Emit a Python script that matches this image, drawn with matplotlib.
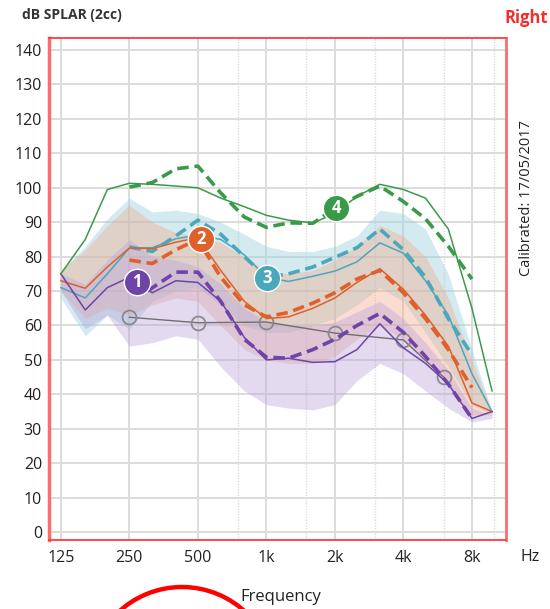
import matplotlib
matplotlib.use("Agg")
import matplotlib.pyplot as plt
from matplotlib.patches import Ellipse
import numpy as np

plt.rcParams['font.family'] = ['Open Sans', 'DejaVu Sans']

# third-octave frequencies for the curves
freqs = [125, 160, 200, 250, 315, 400, 500, 630, 800, 1000, 1250, 1600,
         2000, 2500, 3150, 4000, 5000, 6300, 8000, 9800]
freqs_dash = freqs[3:19]                # dashed targets run 250 .. 8k
freqs_purple_dash = [300] + freqs[5:19]

green_solid = [75, 85, 99.5, 101.3, 101, 100.5, 100, 97, 94.5, 92, 90.6, 89.8,
               92.5, 97.5, 101, 99.5, 97, 88, 65, 41]
green_dash = [100.2, 101.5, 105.5, 106.3, 98.5, 91.5, 88.5, 89.8, 89.7, 94,
              97.5, 100.5, 96, 91, 83, 73.5]

teal_solid = [71, 68, 75, 82.5, 82.6, 85.2, 86.2, 85, 80.5, 74, 72.8, 74.3,
              75.8, 78.5, 84, 81, 73, 63, 46, 35]
teal_dash = [82.8, 81.5, 86, 90.6, 86.5, 80, 74, 75, 77, 79.8, 82.6, 88, 82,
             74, 62, 51.5]

orange_solid = [73, 70.8, 77, 82.5, 82.3, 84.2, 85.5, 76, 67, 62, 62.5, 65,
                68, 72.5, 76.5, 70.5, 63, 54, 37.5, 35]
orange_dash = [79, 78, 82, 85, 74, 66, 62.5, 63.8, 66.5, 69.5, 73.5, 76, 69.5,
               62, 53, 42]

purple_solid = [75, 64.5, 71, 74, 69.5, 73, 72.5, 67, 56.5, 50, 50.5, 49.3,
                49.5, 53, 60.5, 53.5, 49, 43, 33, 35]
purple_dash = [70, 75.5, 75.5, 67, 56, 50.8, 50.5, 53, 56, 60, 63.5, 58, 51,
               43, 33]

# shaded ranges (upper, lower)
teal_hi = [76, 83, 91, 97, 93, 93.5, 92.5, 90, 86.5, 83, 81.5, 81.5, 83, 86,
           93.5, 92.5, 88, 75, 53, 35]
teal_lo = [68, 57, 63, 59, 67, 70, 71, 66, 60, 58, 58, 60, 62, 66, 71, 67, 58,
           48, 37, 34]
orange_hi = [76, 82, 89, 95, 90, 87, 86, 84, 80, 76, 75, 76, 79, 83, 89, 86,
             80, 68, 50, 35]
orange_lo = [70, 62, 65, 63, 66, 68, 67, 60, 53, 50, 49, 49, 51, 56, 60, 56,
             50, 42, 34, 34]
purple_hi = [75, 72, 79, 85, 80, 79, 77, 72, 65, 61, 60, 60, 61, 64, 67, 62,
             55, 47, 36, 34]
purple_lo = [70, 59, 63, 54, 55, 57, 56, 48, 41, 37, 36, 35.5, 37, 44, 49, 46,
             41, 36, 32, 33]

# threshold circles
thr_freqs = [250, 500, 1000, 2000, 4000, 6000]
thr_values = [62.4, 60.8, 61, 57.8, 55.8, 45]

# numbered markers
marker_freqs = [270, 515, 1010, 2030]
marker_values = [72.6, 85, 73.8, 94]
marker_labels = ['1', '2', '3', '4']

purple = '#7043a8'
orange = '#e0602a'
teal = '#4aa8ba'
green = '#3a9a4a'
marker_colors = [purple, orange, teal, green]

fig = plt.figure(figsize=(5.5, 6.09), dpi=100)
ax = fig.add_axes([0.089, 0.1133, 0.831, 0.8243])

ax.set_xscale('log', base=2)
ax.set_xlim(110.8, 11290)
ax.set_ylim(-2.3, 143.5)

# grid
for y in range(0, 150, 10):
    ax.axhline(y, color='#dcdcdc', lw=1.4, zorder=0)
for f in [125, 250, 500, 1000, 2000, 4000, 8000]:
    ax.axvline(f, color='#dcdcdc', lw=1.4, zorder=0)
for f in [750, 1500, 3000, 6000, 10000]:
    ax.axvline(f, color='#dcdcdc', lw=1.0, ls=(0, (1, 1)), zorder=0)

# bands
ax.fill_between(freqs, teal_lo, teal_hi, color='#9fd2de', alpha=0.45, lw=0, zorder=1)
ax.fill_between(freqs, orange_lo, orange_hi, color='#f3a98c', alpha=0.4, lw=0, zorder=1)
ax.fill_between(freqs, purple_lo, purple_hi, color='#b9a3da', alpha=0.4, lw=0, zorder=1)

# threshold line
ax.plot(thr_freqs, thr_values, color='#6f6f6f', lw=1.0, zorder=2)
ax.plot(thr_freqs, thr_values, ls='none', marker='o', ms=10, mfc='none',
        mec='#8a8a8a', mew=1.3, zorder=2)

dash = (0, (3.2, 1.6))
ax.plot(freqs, teal_solid, color=teal, lw=1.1, zorder=3)
ax.plot(freqs_dash, teal_dash, color=teal, lw=2.6, ls=dash, zorder=3)
ax.plot(freqs, orange_solid, color=orange, lw=1.1, zorder=3)
ax.plot(freqs_dash, orange_dash, color=orange, lw=2.6, ls=dash, zorder=3)
ax.plot(freqs, purple_solid, color=purple, lw=1.1, zorder=3)
ax.plot(freqs_purple_dash, purple_dash, color=purple, lw=2.6, ls=dash, zorder=3)
ax.plot(freqs, green_solid, color=green, lw=1.1, zorder=3)
ax.plot(freqs_dash, green_dash, color=green, lw=2.6, ls=dash, zorder=3)

for f, v, lab, c in zip(marker_freqs, marker_values, marker_labels, marker_colors):
    ax.plot(f, v, marker='o', ms=19, color=c, mec='white', mew=1.0, zorder=4)
    ax.text(f, v, lab, color='white', fontsize=12, fontweight='bold',
            ha='center', va='center', zorder=5)

# axes styling
ax.set_yticks(range(0, 150, 10))
ax.set_xticks([125, 250, 500, 1000, 2000, 4000, 8000])
ax.set_xticklabels(['125', '250', '500', '1k', '2k', '4k', '8k'])
ax.minorticks_off()
ax.tick_params(length=0, labelsize=11.5, colors='#222222', pad=5)
ax.tick_params(axis='x', pad=7)
for s in ax.spines.values():
    s.set_color('#ff3b3b')
    s.set_linewidth(1.3)
ax.spines['left'].set_linewidth(2.5)
ax.spines['left'].set_color('#ff6b6b')
ax.spines['right'].set_linewidth(2.0)
ax.spines['right'].set_color('#ff6b6b')

fig.text(0.04, 0.975, 'dB SPLAR (2cc)', fontsize=10, fontweight='bold',
         color='#333333', ha='left', va='center')
fig.text(0.997, 0.970, 'Right', fontsize=12, fontweight='bold',
         color='#f03030', ha='right', va='center')
fig.text(0.958, 0.675, 'Calibrated: 17/05/2017', rotation=90, fontsize=10.5,
         color='#222222', ha='center', va='center')
fig.text(0.963, 0.086, 'Hz', fontsize=11.5, color='#222222', ha='center', va='center')
fig.text(0.51, 0.019, 'Frequency', fontsize=12, color='#222222', ha='center', va='center')

# red annotation circle at the bottom
fig.add_artist(Ellipse((182 / 550, 1 - 680 / 609), 2 * 93 / 550, 2 * 93 / 609,
                       transform=fig.transFigure, fill=False, ec='red', lw=3.2))

fig.savefig('out.png', dpi=100)
